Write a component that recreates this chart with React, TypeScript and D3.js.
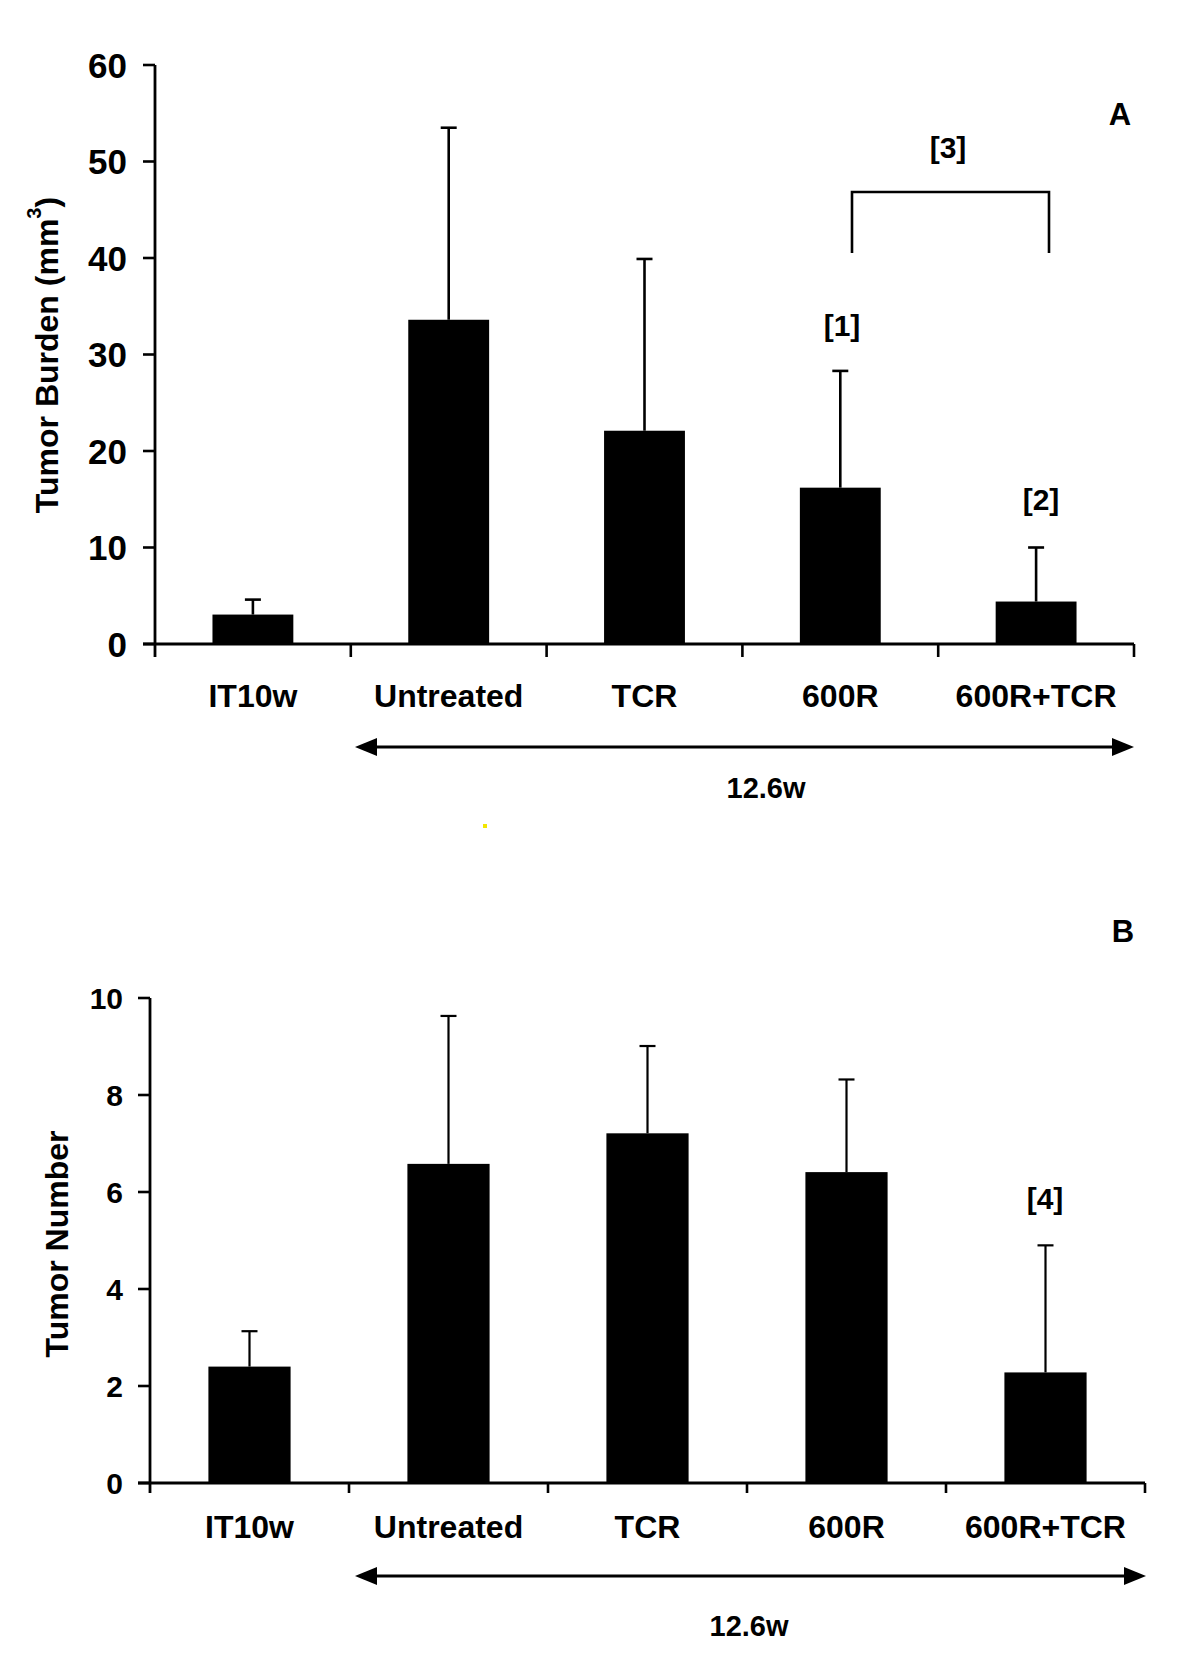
import React from 'react';
import * as d3 from 'd3';

// ---- data ----
const categories = ["IT10w", "Untreated", "TCR", "600R", "600R+TCR"];

const burdenMean = [3.05, 33.6, 22.1, 16.2, 4.4];
const burdenSD = [1.55, 19.9, 17.8, 12.1, 5.6];
const burdenTicks = [0, 10, 20, 30, 40, 50, 60];

const numberMean = [2.4, 6.58, 7.21, 6.41, 2.28];
const numberSD = [0.73, 3.05, 1.8, 1.91, 2.62];
const numberTicks = [0, 2, 4, 6, 8, 10];

const periodLabel = "12.6w";

const FONT = "'Liberation Sans', Arial, Helvetica, sans-serif";

type PanelProps = {
  left: number;
  right: number;
  yTopPx: number;
  yZeroPx: number;
  max: number;
  ticks: number[];
  mean: number[];
  sd: number[];
  tickFont: number;
  tickLabelX: number;
  tickLen: number;
  xTickLen: number;
  labelBaseline: number;
  arrowY: number;
  arrowX0: number;
  arrowX1: number;
  periodX: number;
  periodY: number;
  errWidth: number;
  children?: React.ReactNode;
};

function Panel(p: PanelProps) {
  const x = d3.scaleBand<string>().domain(categories).range([p.left, p.right]).padding(0);
  const y = d3.scaleLinear().domain([0, p.max]).range([p.yZeroPx, p.yTopPx]);
  const bw = x.bandwidth() * 0.413;
  const step = x.step();
  const capHalf = 8;
  const headLen = 22;
  const headHalf = 9;
  return (
    <g>
      {categories.map((c, i) => {
        const xc = (x(c) as number) + x.bandwidth() / 2;
        return (
          <rect key={'b' + c} x={xc - bw / 2} y={y(p.mean[i])} width={bw}
            height={y(0) - y(p.mean[i])} fill="#000" />
        );
      })}
      {categories.map((c, i) => {
        const xc = (x(c) as number) + x.bandwidth() / 2;
        const top = y(p.mean[i] + p.sd[i]);
        return (
          <g key={'e' + c} stroke="#000" strokeWidth={p.errWidth}>
            <line x1={xc} x2={xc} y1={y(p.mean[i])} y2={top} />
            <line x1={xc - capHalf} x2={xc + capHalf} y1={top} y2={top} />
          </g>
        );
      })}
      <line x1={p.left} x2={p.left} y1={y(p.max)} y2={p.yZeroPx + p.xTickLen} stroke="#000" strokeWidth={2.8} />
      {p.ticks.map(t => (
        <g key={'t' + t}>
          <line x1={p.left - p.tickLen} x2={p.left} y1={y(t)} y2={y(t)} stroke="#000" strokeWidth={2.6} />
          <text x={p.tickLabelX} y={y(t)} dy="0.36em" textAnchor="end" fontFamily={FONT}
            fontWeight="bold" fontSize={p.tickFont} fill="#000">{t}</text>
        </g>
      ))}
      <line x1={p.left - p.tickLen} x2={p.right} y1={p.yZeroPx} y2={p.yZeroPx} stroke="#000" strokeWidth={2.8} />
      {d3.range(1, categories.length + 1).map(i => (
        <line key={'xt' + i} x1={p.left + i * step} x2={p.left + i * step} y1={p.yZeroPx}
          y2={p.yZeroPx + p.xTickLen} stroke="#000" strokeWidth={2.6} />
      ))}
      {categories.map(c => (
        <text key={'l' + c} x={(x(c) as number) + x.bandwidth() / 2} y={p.labelBaseline}
          textAnchor="middle" fontFamily={FONT} fontWeight="bold" fontSize={32} fill="#000">{c}</text>
      ))}
      <line x1={p.arrowX0 + headLen - 2} x2={p.arrowX1 - headLen + 2} y1={p.arrowY} y2={p.arrowY}
        stroke="#000" strokeWidth={2.8} />
      <polygon fill="#000" points={`${p.arrowX0},${p.arrowY} ${p.arrowX0 + headLen},${p.arrowY - headHalf} ${p.arrowX0 + headLen},${p.arrowY + headHalf}`} />
      <polygon fill="#000" points={`${p.arrowX1},${p.arrowY} ${p.arrowX1 - headLen},${p.arrowY - headHalf} ${p.arrowX1 - headLen},${p.arrowY + headHalf}`} />
      <text x={p.periodX} y={p.periodY} textAnchor="middle" fontFamily={FONT} fontWeight="bold"
        fontSize={29} fill="#000">{periodLabel}</text>
      {p.children}
    </g>
  );
}

export default function App() {
  const ann = { fontFamily: FONT, fontWeight: 'bold' as const, fontSize: 30, fill: '#000', textAnchor: 'middle' as const };
  return (
    <svg width={1195} height={1671} viewBox="0 0 1195 1671"
      style={{ position: 'absolute', left: 0, top: 0, background: '#fff' }}>
      <rect x={0} y={0} width={1195} height={1671} fill="#fff" />
      <Panel left={155} right={1134} yTopPx={65} yZeroPx={644} max={60} ticks={burdenTicks}
        mean={burdenMean} sd={burdenSD} tickFont={35} tickLabelX={127} tickLen={12} xTickLen={13}
        labelBaseline={707} arrowY={747} arrowX0={355} arrowX1={1134} periodX={766} periodY={798} errWidth={2.6}>
        <text {...ann} x={1120} y={125} fontSize={31}>A</text>
        <text {...ann} x={948} y={158}>[3]</text>
        <path d="M852,253 V192 H1049 V253" fill="none" stroke="#000" strokeWidth={2.6} />
        <text {...ann} x={842} y={336}>[1]</text>
        <text {...ann} x={1041} y={510}>[2]</text>
        <text transform="translate(58,355) rotate(-90)" textAnchor="middle" fontFamily={FONT}
          fontWeight="bold" fontSize={32} fill="#000">
          Tumor Burden (mm<tspan fontSize={20} dy={-17}>3</tspan><tspan dy={17}>)</tspan>
        </text>
      </Panel>
      <rect x={483} y={824} width={4} height={4} fill="#f2e600" />
      <Panel left={150} right={1145} yTopPx={998} yZeroPx={1483} max={10} ticks={numberTicks}
        mean={numberMean} sd={numberSD} tickFont={30} tickLabelX={123} tickLen={12} xTickLen={10}
        labelBaseline={1538} arrowY={1576} arrowX0={355} arrowX1={1146} periodX={749} periodY={1636} errWidth={2.2}>
        <text {...ann} x={1123} y={942} fontSize={31}>B</text>
        <text {...ann} x={1045} y={1209}>[4]</text>
        <text transform="translate(68,1244) rotate(-90)" textAnchor="middle" fontFamily={FONT}
          fontWeight="bold" fontSize={32} fill="#000">Tumor Number</text>
      </Panel>
    </svg>
  );
}
